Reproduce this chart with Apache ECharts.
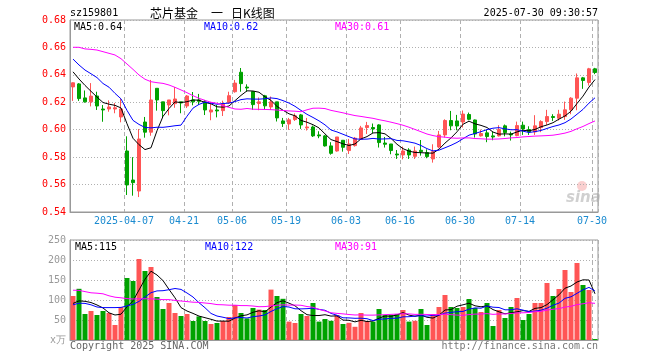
<!DOCTYPE html>
<html><head><meta charset="utf-8">
<script src="https://cdn.jsdelivr.net/npm/echarts@6/dist/echarts.min.js"></script>
<style>html,body{margin:0;padding:0;background:#fff}#c{width:660px;height:360px}</style>
</head><body><div id="c"></div>
<script>
const dates = ['2025-03-24','2025-03-25','2025-03-26','2025-03-27','2025-03-28','2025-03-31','2025-04-01','2025-04-02','2025-04-03','2025-04-07',
'2025-04-08','2025-04-09','2025-04-10','2025-04-11','2025-04-14','2025-04-15','2025-04-16','2025-04-17','2025-04-18','2025-04-21',
'2025-04-22','2025-04-23','2025-04-24','2025-04-25','2025-04-28','2025-04-29','2025-04-30','2025-05-06','2025-05-07','2025-05-08',
'2025-05-09','2025-05-12','2025-05-13','2025-05-14','2025-05-15','2025-05-16','2025-05-19','2025-05-20','2025-05-21','2025-05-22',
'2025-05-23','2025-05-26','2025-05-27','2025-05-28','2025-05-29','2025-05-30','2025-06-03','2025-06-04','2025-06-05','2025-06-06',
'2025-06-09','2025-06-10','2025-06-11','2025-06-12','2025-06-13','2025-06-16','2025-06-17','2025-06-18','2025-06-19','2025-06-20',
'2025-06-23','2025-06-24','2025-06-25','2025-06-26','2025-06-27','2025-06-30','2025-07-01','2025-07-02','2025-07-03','2025-07-04',
'2025-07-07','2025-07-08','2025-07-09','2025-07-10','2025-07-11','2025-07-14','2025-07-15','2025-07-16','2025-07-17','2025-07-18',
'2025-07-21','2025-07-22','2025-07-23','2025-07-24','2025-07-25','2025-07-28','2025-07-29','2025-07-30'];

const opens = [0.6312,0.6334,0.6232,0.6203,0.6246,0.6151,0.6151,0.6151,0.6093,0.5845,
0.5633,0.5553,0.6056,0.5982,0.6302,0.6203,0.6180,0.6190,0.6203,0.6173,
0.6217,0.6217,0.6203,0.6129,0.6144,0.6139,0.6197,0.6277,0.6419,0.6311,
0.6278,0.6191,0.6247,0.6166,0.6203,0.6064,0.6042,0.6074,0.6108,0.6013,
0.6020,0.5962,0.5955,0.5882,0.5845,0.5923,0.5848,0.5884,0.5930,0.6016,
0.6016,0.6035,0.5903,0.5896,0.5823,0.5816,0.5852,0.5806,0.5850,0.5833,
0.5787,0.5874,0.5962,0.6067,0.6064,0.6056,0.6111,0.6071,0.5955,0.5977,
0.5955,0.5955,0.6028,0.5969,0.5957,0.6033,0.6001,0.5984,0.6016,0.6059,
0.6096,0.6084,0.6096,0.6145,0.6230,0.6378,0.6344,0.6444];
const closes = [0.6342,0.6227,0.6203,0.6245,0.6173,0.6144,0.6166,0.6160,0.6151,0.5597,
0.5614,0.5932,0.5982,0.6217,0.6217,0.6139,0.6217,0.6224,0.6195,0.6246,
0.6203,0.6207,0.6144,0.6144,0.6137,0.6190,0.6248,0.6340,0.6336,0.6304,
0.6183,0.6203,0.6174,0.6203,0.6086,0.6045,0.6072,0.6101,0.6035,0.6020,
0.5955,0.5955,0.5882,0.5828,0.5947,0.5872,0.5896,0.5938,0.6013,0.6030,
0.6006,0.5906,0.5894,0.5848,0.5816,0.5845,0.5816,0.5845,0.5840,0.5804,
0.5840,0.5962,0.6067,0.6028,0.6027,0.6114,0.6076,0.5969,0.5972,0.5950,
0.5947,0.6001,0.5979,0.5962,0.6030,0.6006,0.5984,0.6028,0.6059,0.6096,
0.6089,0.6113,0.6145,0.6230,0.6378,0.6359,0.6444,0.6417];
const highs = [0.6345,0.6340,0.6286,0.6340,0.6277,0.6180,0.6214,0.6195,0.6224,0.5952,
0.5800,0.6005,0.6093,0.6363,0.6302,0.6203,0.6217,0.6311,0.6203,0.6253,
0.6275,0.6261,0.6217,0.6203,0.6180,0.6212,0.6277,0.6363,0.6450,0.6331,
0.6278,0.6235,0.6254,0.6242,0.6203,0.6086,0.6086,0.6119,0.6115,0.6086,
0.6030,0.5989,0.5962,0.5909,0.5947,0.5923,0.5933,0.5947,0.6028,0.6057,
0.6045,0.6040,0.5947,0.5896,0.5852,0.5877,0.5865,0.5877,0.5925,0.5857,
0.5894,0.5991,0.6076,0.6137,0.6108,0.6140,0.6125,0.6074,0.6001,0.6001,
0.5986,0.6033,0.6038,0.5986,0.6059,0.6059,0.6025,0.6106,0.6069,0.6145,
0.6113,0.6145,0.6205,0.6237,0.6410,0.6385,0.6451,0.6451];
const lows = [0.6210,0.6210,0.6198,0.6170,0.6144,0.6058,0.6131,0.6120,0.6054,0.5524,
0.5519,0.5509,0.5942,0.5956,0.6139,0.6085,0.6105,0.6160,0.6120,0.6158,
0.6178,0.6180,0.6107,0.6069,0.6090,0.6100,0.6190,0.6270,0.6277,0.6277,
0.6145,0.6142,0.6145,0.6145,0.6060,0.6020,0.5999,0.6064,0.6006,0.5994,
0.5947,0.5938,0.5877,0.5818,0.5840,0.5840,0.5823,0.5877,0.5930,0.5969,
0.5975,0.5870,0.5870,0.5821,0.5787,0.5784,0.5787,0.5787,0.5811,0.5792,
0.5760,0.5865,0.5943,0.5996,0.5996,0.6016,0.6069,0.5943,0.5950,0.5909,
0.5923,0.5950,0.5952,0.5921,0.5952,0.5962,0.5962,0.5962,0.5982,0.6035,
0.6064,0.6067,0.6072,0.6113,0.6142,0.6298,0.6322,0.6405];
const volumes = [110,128,65,72.5,62.5,72.5,67.5,37.5,82.5,155,
147.5,202.5,172.5,182.5,107.5,77.5,92.5,67.5,60,65,
47.5,59,47.5,40,42.5,47.5,57.5,87.5,67.5,54,
80,76,75,126,110,103,46,42.5,65,60,
92.5,46,52.5,48,62.5,40,43,33,67.5,47.5,
46,77.5,62.5,62.5,65,75,46,48,77.5,37.5,
65,82.5,112.5,82.5,80,82.5,102.5,80,70,92.5,
35,75,55,82.5,105,50,65,92.5,92.5,142.5,
110,127.5,175,120,192.5,137.5,125,2.5];

// moving-average values before enough in-window data exists
const ma5Head = [0.6422,0.6370,0.6323,0.6280];
const ma10Head = [0.6515,0.6472,0.6435,0.6408,0.6380,0.6337,0.6310,0.6265,0.6225];
const ma30Head = [0.6601,0.6601,0.6589,0.6586,0.6581,0.6569,0.6557,0.6545,0.6518,0.6479,
0.6440,0.6399,0.6368,0.6350,0.6343,0.6338,0.6326,0.6309,0.6290,0.6270,
0.6248,0.6229,0.6214,0.6200,0.6193,0.6175,0.6163,0.6151,0.6149];
const volMa5Head = [91.5,97.8,96.7,93.7];
const volMa10Head = [88,92,91.5,88,82.5,81,81,81,81.5];
const volMa30Head = [124.5,124,121,118,117,115.5,110.5,107,105.5,103.5,
102.5,103,103,103,102,101,101,99,97.5,96,
94.5,94,92.5,91,88.5,88,87,87,86];

const tickDates = ['2025-04-07','2025-04-21','2025-05-06','2025-05-19','2025-06-03','2025-06-16','2025-06-30','2025-07-14','2025-07-30'];
const tickLabels = ['2025-04-07','04-21','05-06','05-19','06-03','06-16','06-30','07-14','07-30'];
const priceMin = 0.54, priceMax = 0.68, priceStep = 0.02;
const volMin = 0, volMax = 250, volStep = 50;

function movingAvg(src, n, head) {
  return src.map((_, i) => {
    if (i < head.length) return head[i];
    let s = 0;
    for (let k = i - n + 1; k <= i; k++) s += src[k];
    return s / n;
  });
}
const ma5 = movingAvg(closes, 5, ma5Head);
const ma10 = movingAvg(closes, 10, ma10Head);
const ma30 = movingAvg(closes, 30, ma30Head);
const vma5 = movingAvg(volumes, 5, volMa5Head);
const vma10 = movingAvg(volumes, 10, volMa10Head);
const vma30 = movingAvg(volumes, 30, volMa30Head);

const UP = '#ff5555', DOWN = '#00a200';
const candleData = dates.map((d, i) => [opens[i], closes[i], lows[i], highs[i]]);
const volData = volumes.map((v, i) => ({ value: v, itemStyle: { color: closes[i] >= opens[i] ? UP : DOWN } }));

const tickSet = new Set(tickDates.map(d => dates.indexOf(d)));
const isTick = (i) => tickSet.has(i);
const MONO = '"DejaVu Sans Mono", monospace';
const last = dates.length - 1;

const chart = echarts.init(document.getElementById('c'), null, { renderer: 'canvas' });

function xAx(gi, showLabel) {
  return {
    type: 'category', gridIndex: gi, data: dates, boundaryGap: true,
    axisLine: { show: true, lineStyle: { color: '#999' } },
    axisTick: { show: false },
    axisLabel: {
      show: showLabel, interval: isTick, color: '#1b8bd0', fontSize: 10, fontFamily: MONO, margin: 4,
      padding: [0, 6, 0, 0],
      formatter: v => tickLabels[tickDates.indexOf(v)] || ''
    },
    splitLine: { show: true, interval: isTick, lineStyle: { color: '#b0b0b0', type: [4, 3], width: 1 } }
  };
}
function yAx(gi, min, max, step, color, fmt) {
  return {
    type: 'value', gridIndex: gi, min, max, interval: step,
    axisLine: { show: true, lineStyle: { color: '#999' } },
    axisTick: { show: false },
    axisLabel: { color, fontSize: 10, fontFamily: MONO, margin: 4, formatter: fmt },
    splitLine: { show: true, lineStyle: { color: '#b0b0b0', type: [1, 2], width: 1 } }
  };
}
function txt(x, y, text, fill, opts) {
  return Object.assign({
    type: 'text', x, y, silent: true,
    style: Object.assign({ text, fill, font: '10px ' + MONO, textAlign: 'left', textVerticalAlign: 'middle', align: 'left', verticalAlign: 'middle' }, (opts || {}))
  });
}
function lineSeries(data, color, xi, yi) {
  return { type: 'line', xAxisIndex: xi, yAxisIndex: yi, data, showSymbol: false, symbol: 'none',
    lineStyle: { color, width: 1 }, itemStyle: { color }, z: 5, silent: true };
}

chart.setOption({
  animation: false,
  backgroundColor: '#fff',
  grid: [
    { left: 70, top: 20, width: 528, height: 192, show: true, borderColor: '#999', borderWidth: 1, backgroundColor: 'transparent' },
    { left: 70, top: 240, width: 528, height: 100, show: true, borderColor: '#999', borderWidth: 1, backgroundColor: 'transparent' }
  ],
  xAxis: [xAx(0, true), xAx(1, false)],
  yAxis: [
    yAx(0, priceMin, priceMax, priceStep, '#ff0000', v => v.toFixed(2)),
    yAx(1, volMin, volMax, volStep, '#999', v => v === 0 ? 'x万' : String(v))
  ],
  series: [
    { type: 'candlestick', xAxisIndex: 0, yAxisIndex: 0, data: candleData, barWidth: 4, silent: true,
      itemStyle: { color: UP, color0: DOWN, borderColor: UP, borderColor0: DOWN, borderWidth: 1 } },
    lineSeries(ma5, '#000000', 0, 0),
    lineSeries(ma10, '#0000ff', 0, 0),
    lineSeries(ma30, '#ff00ff', 0, 0),
    { type: 'bar', xAxisIndex: 1, yAxisIndex: 1, data: volData, barWidth: 5, silent: true },
    lineSeries(vma5, '#000000', 1, 1),
    lineSeries(vma10, '#0000ff', 1, 1),
    lineSeries(vma30, '#ff00ff', 1, 1)
  ],
  graphic: [
    txt(70, 13, 'sz159801', '#000'),
    txt(150, 13, '芯片基金', '#000', { font: '12px "Noto Sans CJK SC"' }),
    txt(211, 13, '一', '#000', { font: '12px "Noto Sans CJK SC"' }),
    txt(231, 13, '日K线图', '#000', { font: '12px "Noto Sans CJK SC"' }),
    txt(598, 13, '2025-07-30 09:30:57', '#000', { textAlign: 'right', align: 'right' }),
    txt(74, 27, 'MA5:' + ma5[last].toFixed(2), '#000'),
    txt(204, 27, 'MA10:' + ma10[last].toFixed(2), '#0000ff'),
    txt(335, 27, 'MA30:' + ma30[last].toFixed(2), '#ff00ff'),
    txt(75, 247, 'MA5:' + Math.floor(vma5[last]), '#000'),
    txt(205, 247, 'MA10:' + Math.floor(vma10[last]), '#0000ff'),
    txt(335, 247, 'MA30:' + Math.floor(vma30[last]), '#ff00ff'),
    txt(70, 346, 'Copyright 2025 SINA.COM', '#666'),
    txt(598, 346, 'http://finance.sina.com.cn', '#777', { textAlign: 'right', align: 'right' }),
    { type: 'circle', shape: { cx: 582, cy: 186, r: 5 }, style: { fill: 'rgba(240,120,120,0.35)' }, silent: true },
    txt(566, 198, 'sina', 'rgba(150,150,150,0.45)', { font: 'italic bold 15px "DejaVu Sans"' })
  ]
});
</script></body></html>
